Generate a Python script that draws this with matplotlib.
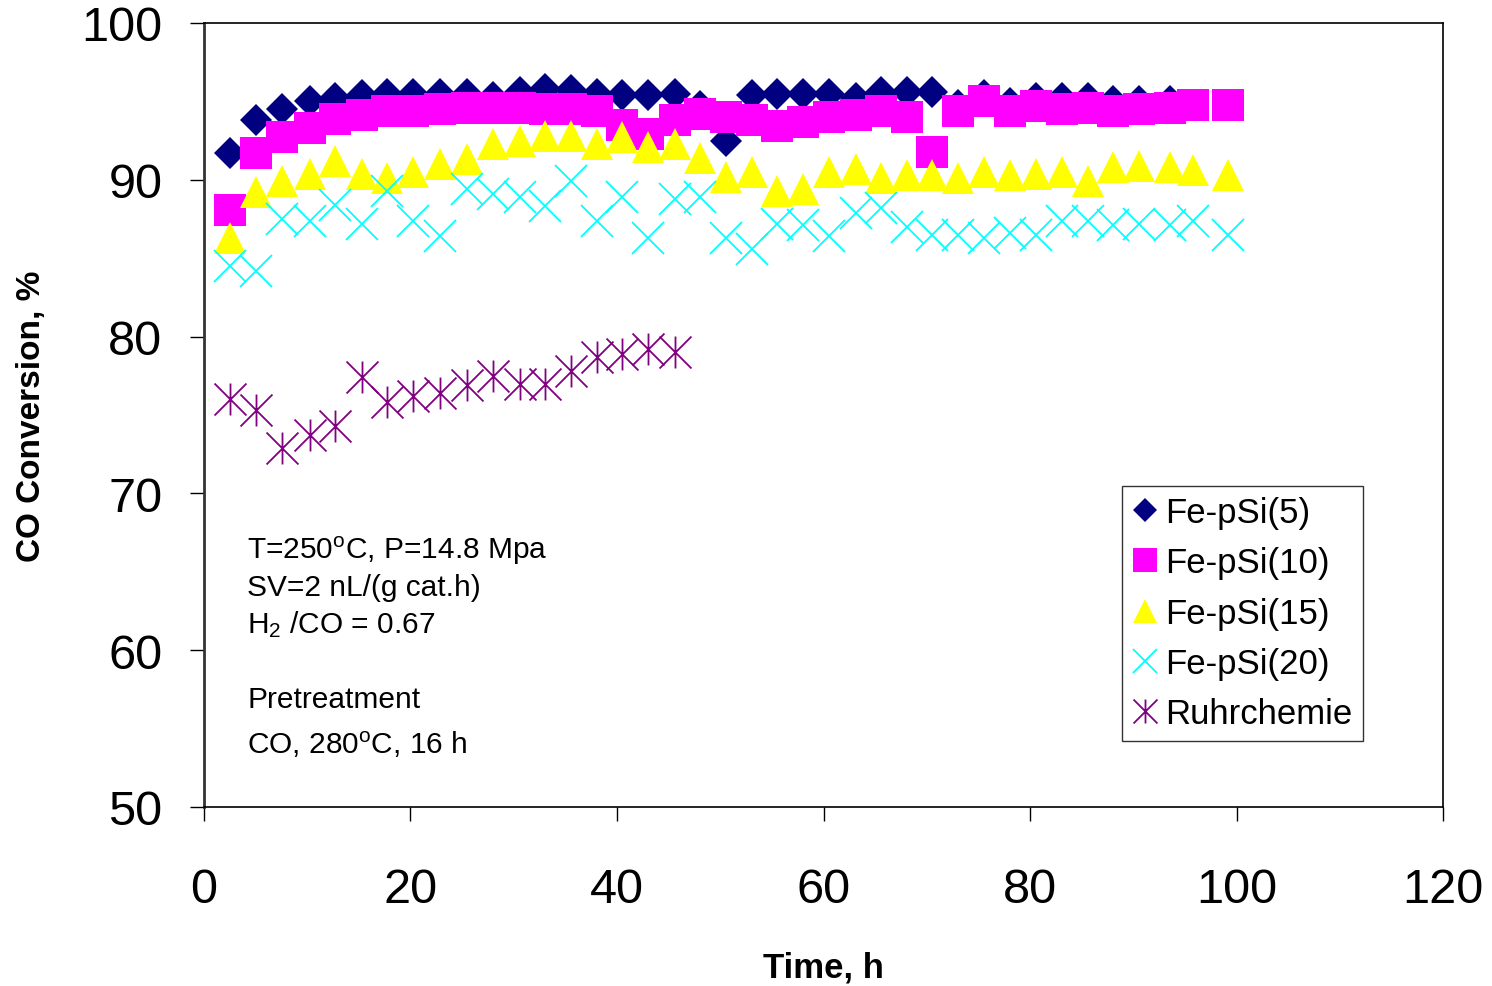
import numpy as np
import matplotlib
matplotlib.use("Agg")
import matplotlib.pyplot as plt
from matplotlib.path import Path

plt.rcParams['font.family'] = ['Liberation Sans', 'DejaVu Sans']
plt.rcParams['mathtext.fontset'] = 'custom'
plt.rcParams['mathtext.rm'] = 'Liberation Sans'
plt.rcParams['mathtext.it'] = 'Liberation Sans'

# time on stream, h
time_h = [2.5, 5.0, 7.6, 10.3, 12.7, 15.3, 17.7, 20.2, 22.9, 25.5, 28.0, 30.6, 33.0,
          35.5, 38.1, 40.5, 43.0, 45.6, 48.0, 50.6, 53.1, 55.5, 58.0, 60.5, 63.1, 65.6,
          68.1, 70.5, 73.0, 75.5, 78.1, 80.6, 83.1, 85.6, 88.0, 90.6, 93.6, 95.8, 99.2]

fe_psi_5 = [91.7, 93.8, 94.5, 95.0, 95.2, 95.4, 95.5, 95.5, 95.5, 95.5, 95.3, 95.6, 95.8,
            95.7, 95.5, 95.4, 95.4, 95.5, 94.7, 92.5, 95.4, 95.5, 95.5, 95.5, 95.2, 95.6,
            95.6, 95.6, 94.8, 95.4, 94.9, 95.2, 95.2, 95.2, 95.0, 95.0, 95.0]

fe_psi_10 = [88.1, 91.7, 92.7, 93.3, 93.9, 94.1, 94.4, 94.4, 94.5, 94.6, 94.6, 94.6, 94.5,
             94.5, 94.4, 93.5, 92.9, 93.8, 94.2, 94.0, 93.8, 93.4, 93.7, 94.0, 94.1, 94.4,
             94.0, 91.8, 94.4, 95.0, 94.4, 94.7, 94.5, 94.6, 94.4, 94.5, 94.6, 94.8, 94.8]

fe_psi_15 = [86.3, 89.2, 89.9, 90.4, 91.2, 90.4, 90.1, 90.5, 91.0, 91.3, 92.3, 92.5, 92.8,
             92.8, 92.3, 92.7, 92.1, 92.3, 91.4, 90.2, 90.5, 89.3, 89.4, 90.5, 90.7, 90.1,
             90.3, 90.3, 90.1, 90.5, 90.3, 90.4, 90.5, 89.9, 90.8, 90.9, 90.8, 90.6, 90.3]

fe_psi_20 = [84.5, 84.2, 87.5, 87.4, 88.4, 87.2, 89.3, 87.4, 86.4, 89.4, 89.1, 88.9, 88.3,
             89.9, 87.4, 88.9, 86.3, 88.8, 88.9, 86.3, 85.6, 87.2, 87.1, 86.4, 87.9, 88.2,
             87.0, 86.5, 86.5, 86.3, 86.6, 86.5, 87.4, 87.4, 87.1, 87.2, 87.1, 87.4, 86.5]

ruhrchemie = [76.05, 75.3, 72.9, 73.7, 74.3, 77.4, 75.8, 76.2, 76.4, 76.9, 77.5, 77.0,
              77.0, 77.8, 78.7, 78.9, 79.2, 79.0]

conditions = ["T=250$^{\\mathrm{o}}$C, P=14.8 Mpa",
              "SV=2 nL/(g cat.h)",
              "H$_2$ /CO = 0.67",
              "",
              "Pretreatment",
              "CO, 280$^{\\mathrm{o}}$C, 16 h"]

# excel style asterisk: x plus vertical bar
star = Path([(-1, -1), (1, 1), (-1, 1), (1, -1), (0, -1), (0, 1)],
            [Path.MOVETO, Path.LINETO, Path.MOVETO, Path.LINETO, Path.MOVETO, Path.LINETO])

fig = plt.figure(figsize=(14.92, 9.87), dpi=100)
ax = fig.add_axes([0.1367, 0.1814, 0.8305, 0.7943])

ax.plot(time_h[:len(fe_psi_5)], fe_psi_5, ls='none', marker='D', ms=16,
        color='#000080', mew=0, label='Fe-pSi(5)')
ax.plot(time_h, fe_psi_10, ls='none', marker='s', ms=23,
        color='#FF00FF', mew=0, label='Fe-pSi(10)')
ax.plot(time_h, fe_psi_15, ls='none', marker='^', ms=23,
        color='#FFFF00', mew=0, label='Fe-pSi(15)')
ax.plot(time_h, fe_psi_20, ls='none', marker='x', ms=23,
        color='#00FFFF', mew=1.3, label='Fe-pSi(20)')
ax.plot(time_h[:len(ruhrchemie)], ruhrchemie, ls='none', marker=star, ms=23,
        color='#800080', mfc='none', mew=1.3, label='Ruhrchemie')

ax.set_xlim(0, 120)
ax.set_ylim(50, 100)
ax.set_xticks(np.arange(0, 121, 20))
ax.set_yticks(np.arange(50, 101, 10))
ax.tick_params(axis='y', direction='out', length=10, width=1, labelsize=35, pad=20)
ax.tick_params(axis='x', direction='out', length=10, width=1, labelsize=35, pad=33)
for s in ax.spines.values():
    s.set_linewidth(1.2)
ax.spines['left'].set_linewidth(2)
ax.spines['left'].set_color('#333333')

ax.set_xlabel('Time, h', fontsize=25, fontweight='bold', labelpad=28)
ax.set_ylabel('CO Conversion, %', fontsize=24, fontweight='bold')
ax.yaxis.set_label_coords(-0.127, 0.5)

ypos = [66.4, 64.05, 61.7, 59.3, 56.9, 54.05]
for txt, yy in zip(conditions, ypos):
    if txt:
        ax.text(4.2, yy, txt, fontsize=21.5, va='center', ha='left')

leg = ax.legend(loc='upper left', bbox_to_anchor=(0.741, 0.41), fontsize=25,
                frameon=True, fancybox=False, edgecolor='black', handlelength=0.7,
                handletextpad=0.25, borderpad=0.3, labelspacing=0.5, borderaxespad=0,
                markerscale=0.75)
leg.get_frame().set_linewidth(1.0)

fig.savefig('out.png', dpi=100)
